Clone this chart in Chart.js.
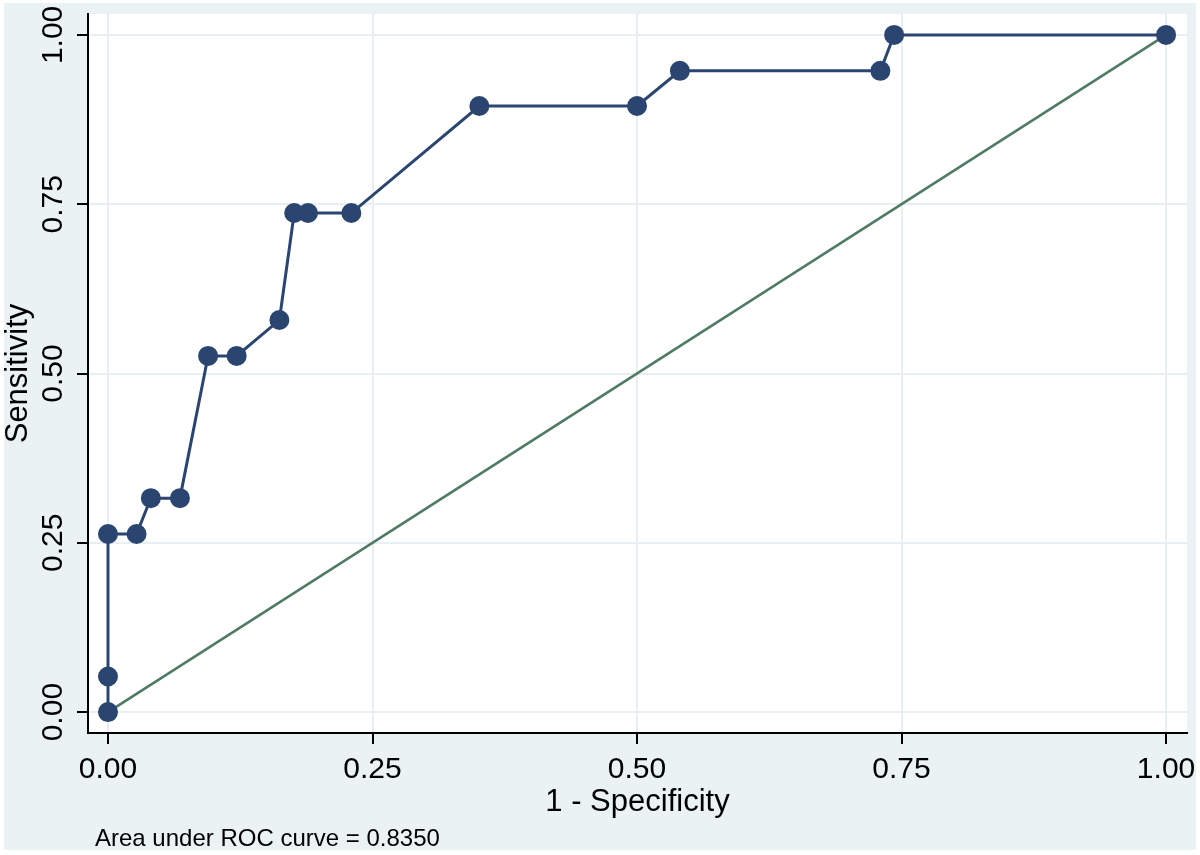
<!DOCTYPE html>
<html>
<head>
<meta charset="utf-8">
<script src="https://cdn.jsdelivr.net/npm/chart.js@4/dist/chart.umd.min.js"></script>
<style>
  html, body { margin: 0; padding: 0; background: #fff; }
  #wrap { width: 1200px; height: 855px; }
</style>
</head>
<body>
<div id="wrap"><canvas id="roc" width="1200" height="855"></canvas></div>
<script>
// ROC points (1 - specificity, sensitivity)
const oneMinusSpec = [0, 0, 0, 0.027, 0.0405, 0.068, 0.0946, 0.1216, 0.162, 0.176, 0.189, 0.23, 0.351, 0.5, 0.5405, 0.73, 0.743, 1];
const sensitivity  = [0, 0.0526, 0.263, 0.263, 0.316, 0.316, 0.526, 0.526, 0.579, 0.737, 0.737, 0.737, 0.895, 0.895, 0.947, 0.947, 1, 1];
const refX = [0, 1];
const refY = [0, 1];
const tickValues = [0, 0.25, 0.5, 0.75, 1];
const aucNote = 'Area under ROC curve = 0.8350';

const font = "'Liberation Sans', Arial, Helvetica, sans-serif";

// stata-ish frame, rotated y tick labels and the note under the graph
const decor = {
  id: 'decor',
  beforeDraw(chart) {
    const { ctx, chartArea: a } = chart;
    ctx.save();
    ctx.fillStyle = '#ffffff';
    ctx.fillRect(0, 0, chart.width, chart.height);
    ctx.fillStyle = '#eaf2f3';
    ctx.fillRect(4, 3, chart.width - 8, chart.height - 8);
    ctx.fillStyle = '#ffffff';
    ctx.fillRect(a.left, a.top, a.right - a.left, a.bottom - a.top);
    ctx.restore();
  },
  afterDraw(chart) {
    const { ctx } = chart;
    const y = chart.scales.y;
    ctx.save();
    ctx.fillStyle = '#000';
    ctx.font = '30px ' + font;
    ctx.textAlign = 'center';
    ctx.textBaseline = 'alphabetic';
    tickValues.forEach(v => {
      ctx.save();
      ctx.translate(62, y.getPixelForValue(v));
      ctx.rotate(-Math.PI / 2);
      ctx.fillText(v.toFixed(2), 0, 0);
      ctx.restore();
    });
    ctx.font = '24px ' + font;
    ctx.textBaseline = 'middle';
    ctx.textAlign = 'left';
    ctx.fillText(aucNote, 95, 839);
    ctx.restore();
  }
};

const fixTicks = scale => { scale.ticks = tickValues.map(v => ({ value: v })); };

new Chart(document.getElementById('roc'), {
  type: 'scatter',
  data: {
    datasets: [
      {
        data: oneMinusSpec.map((x, i) => ({ x, y: sensitivity[i] })),
        showLine: true,
        borderColor: '#2a4670',
        backgroundColor: '#2a4670',
        borderWidth: 3,
        pointRadius: 8.5,
        pointHoverRadius: 8.5,
        order: 1
      },
      {
        data: refX.map((x, i) => ({ x, y: refY[i] })),
        showLine: true,
        borderColor: '#4f7a63',
        borderWidth: 2.5,
        pointRadius: 0,
        order: 2
      }
    ]
  },
  options: {
    responsive: false,
    animation: false,
    layout: { padding: { top: 14, right: 13, left: 0, bottom: 46 } },
    plugins: {
      legend: { display: false },
      tooltip: { enabled: false }
    },
    scales: {
      x: {
        type: 'linear',
        min: -0.0189,
        max: 1.0198,
        afterBuildTicks: fixTicks,
        border: { color: '#000', width: 2 },
        grid: { color: '#e8eff2', lineWidth: 2, tickColor: '#000', tickLength: 11, tickWidth: 2 },
        ticks: {
          color: '#000',
          font: { family: font, size: 30, lineHeight: 1.7 },
          padding: 0,
          maxRotation: 0,
          callback: v => v.toFixed(2)
        },
        title: {
          display: true,
          text: '1 - Specificity',
          color: '#000',
          font: { family: font, size: 31, lineHeight: 0.45 },
          padding: { top: 0, bottom: 0 }
        }
      },
      y: {
        type: 'linear',
        min: -0.0309,
        max: 1.0309,
        afterBuildTicks: fixTicks,
        border: { color: '#000', width: 2 },
        grid: { color: '#e8eff2', lineWidth: 2, tickColor: '#000', tickLength: 11, tickWidth: 2 },
        ticks: { display: false },
        title: {
          display: true,
          text: 'Sensitivity',
          color: '#000',
          font: { family: font, size: 31, lineHeight: 1 },
          padding: { top: 2.5, bottom: 43.5 }
        }
      }
    }
  },
  plugins: [decor]
});
</script>
</body>
</html>
